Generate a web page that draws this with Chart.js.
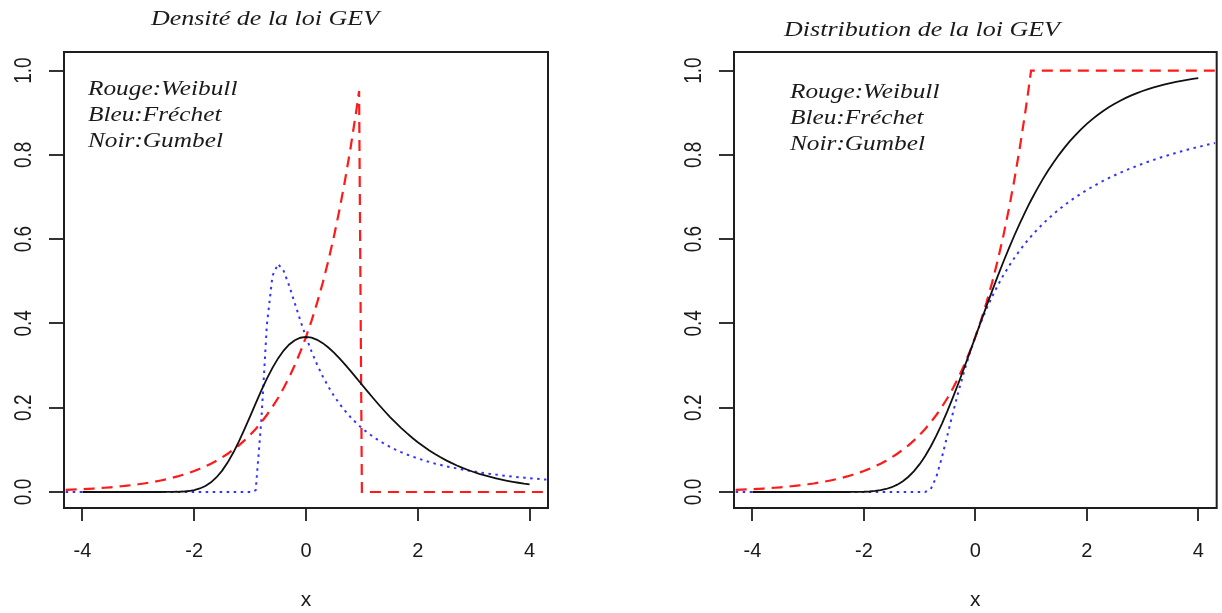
<!DOCTYPE html>
<html>
<head>
<meta charset="utf-8">
<script src="https://cdn.jsdelivr.net/npm/chart.js@4.4.1/dist/chart.umd.min.js"></script>
<style>
  html, body { margin: 0; padding: 0; background: #fff; }
  #wrap { position: relative; width: 1222px; height: 613px; overflow: hidden; }
  .panel { position: absolute; top: 0; width: 611px; height: 613px; }
  canvas { display: block; }
</style>
</head>
<body>
<div id="wrap">
  <div class="panel" style="left:0"><canvas id="densite" width="611" height="613"></canvas></div>
  <div class="panel" style="left:611px"><canvas id="distribution" width="611" height="613"></canvas></div>
</div>
<script>
// x grid shared by every curve
const xGrid = [
  -4.3,-4.2,-4.1,-4.0,-3.9,-3.8,-3.7,-3.6,-3.5,-3.4,-3.3,-3.2,-3.1,-3.0,-2.9,-2.8,-2.7,
  -2.6,-2.5,-2.4,-2.3,-2.2,-2.1,-2.0,-1.9,-1.8,-1.7,-1.6,-1.5,-1.4,-1.3,-1.2,-1.1,-1.0,
  -0.95,
  -0.9,-0.8,-0.7,-0.6,-0.5,-0.4,-0.3,-0.2,-0.1,0,0.1,0.2,0.3,0.4,0.5,0.6,0.7,0.8,0.9,
  0.95,
  1.0,1.1,1.2,1.3,1.4,1.5,1.6,1.7,1.8,1.9,2.0,2.1,2.2,2.3,2.4,2.5,2.6,
  2.7,2.8,2.9,3.0,3.1,3.2,3.3,3.4,3.5,3.6,3.7,3.8,3.9,4.0,4.1,4.2,4.3
];

// Weibull (rouge)
const weibullDensity = [
  0.0050,0.0055,0.0061,0.0067,0.0074,0.0082,0.0091,0.0101,0.0111,0.0123,0.0136,0.0150,0.0166,0.0183,0.0202,0.0224,0.0247,
  0.0273,0.0302,0.0334,0.0369,0.0408,0.0450,0.0498,0.0550,0.0608,0.0672,0.0743,0.0821,0.0907,0.1003,0.1108,0.1225,0.1353,
  0.1423,
  0.1496,0.1653,0.1827,0.2019,0.2231,0.2466,0.2725,0.3012,0.3329,0.3679,0.4066,0.4493,0.4966,0.5488,0.6065,0.6703,0.7408,0.8187,0.9048,
  0.9512,
  0,0,0,0,0,0,0,0,0,0,0,0,0,0,0,0,0,
  0,0,0,0,0,0,0,0,0,0,0,0,0,0,0,0,0
];
const weibullCdf = [
  0.0050,0.0055,0.0061,0.0067,0.0074,0.0082,0.0091,0.0101,0.0111,0.0123,0.0136,0.0150,0.0166,0.0183,0.0202,0.0224,0.0247,
  0.0273,0.0302,0.0334,0.0369,0.0408,0.0450,0.0498,0.0550,0.0608,0.0672,0.0743,0.0821,0.0907,0.1003,0.1108,0.1225,0.1353,
  0.1423,
  0.1496,0.1653,0.1827,0.2019,0.2231,0.2466,0.2725,0.3012,0.3329,0.3679,0.4066,0.4493,0.4966,0.5488,0.6065,0.6703,0.7408,0.8187,0.9048,
  0.9512,
  1,1,1,1,1,1,1,1,1,1,1,1,1,1,1,1,1,
  1,1,1,1,1,1,1,1,1,1,1,1,1,1,1,1,1
];

// Fréchet (bleu)
const frechetDensity = [
  0,0,0,0,0,0,0,0,0,0,0,0,0,0,0,0,0,
  0,0,0,0,0,0,0,0,0,0,0,0,0,0,0,0,0,
  0,
  0.0045,0.1685,0.3964,0.5130,0.5413,0.5247,0.4891,0.4477,0.4064,0.3679,0.3330,0.3018,0.2742,0.2498,0.2282,0.2091,0.1922,0.1771,0.1637,
  0.1575,
  0.1516,0.1409,0.1311,0.1224,0.1145,0.1073,0.1007,0.0947,0.0892,0.0842,0.0796,0.0754,0.0715,0.0678,0.0645,0.0613,0.0585,
  0.0558,0.0532,0.0509,0.0487,0.0466,0.0447,0.0429,0.0412,0.0395,0.0380,0.0366,0.0352,0.0340,0.0328,0.0316,0.0305,0.0295
];
const frechetCdf = [
  0,0,0,0,0,0,0,0,0,0,0,0,0,0,0,0,0,
  0,0,0,0,0,0,0,0,0,0,0,0,0,0,0,0,0,
  0,
  0.0000,0.0067,0.0357,0.0821,0.1353,0.1889,0.2397,0.2865,0.3292,0.3679,0.4029,0.4346,0.4634,0.4895,0.5134,0.5353,0.5553,0.5738,0.5908,
  0.5988,
  0.6065,0.6211,0.6347,0.6474,0.6592,0.6703,0.6807,0.6905,0.6997,0.7083,0.7165,0.7243,0.7316,0.7386,0.7452,0.7515,0.7575,
  0.7632,0.7686,0.7738,0.7788,0.7836,0.7881,0.7925,0.7967,0.8007,0.8046,0.8083,0.8119,0.8154,0.8187,0.8219,0.8251,0.8281
];

// Gumbel (noir), tracée de -4 à 4
const gumbelDensity = [
  null,null,null,0,0,0,0,0,0,0,0,0,0,0,0,0,0,
  0,0.0001,0.0002,0.0005,0.0011,0.0023,0.0046,0.0083,0.0143,0.0229,0.0350,0.0507,0.0703,0.0936,0.1200,0.1489,0.1794,
  0.1947,
  0.2102,0.2404,0.2688,0.2946,0.3170,0.3356,0.3500,0.3601,0.3660,0.3679,0.3661,0.3611,0.3532,0.3429,0.3307,0.3170,0.3022,0.2867,0.2708,
  0.2627,
  0.2546,0.2387,0.2229,0.2075,0.1927,0.1785,0.1650,0.1522,0.1401,0.1288,0.1182,0.1084,0.0992,0.0907,0.0828,0.0756,0.0690,
  0.0628,0.0572,0.0521,0.0474,0.0430,0.0392,0.0356,0.0323,0.0293,0.0266,0.0241,0.0219,0.0198,0.0180,null,null,null
];
const gumbelCdf = [
  null,null,null,0,0,0,0,0,0,0,0,0,0,0,0,0,0,
  0,0,0,0,0.0001,0.0003,0.0006,0.0012,0.0024,0.0042,0.0071,0.0113,0.0173,0.0255,0.0362,0.0496,0.0660,
  0.0753,
  0.0854,0.1080,0.1335,0.1617,0.1923,0.2250,0.2593,0.2948,0.3312,0.3679,0.4046,0.4410,0.4767,0.5115,0.5452,0.5776,0.6086,0.6381,0.6659,
  0.6793,
  0.6922,0.7169,0.7400,0.7615,0.7814,0.8000,0.8172,0.8330,0.8476,0.8611,0.8734,0.8847,0.8951,0.9046,0.9133,0.9212,0.9284,
  0.9350,0.9410,0.9465,0.9514,0.9560,0.9600,0.9638,0.9672,0.9703,0.9731,0.9756,0.9779,0.9800,0.9819,null,null,null
];

// axes
const xTicks = [-4, -2, 0, 2, 4];
const yTicks = [0, 0.2, 0.4, 0.6, 0.8, 1.0];
const yTickLabels = ['0.0', '0.2', '0.4', '0.6', '0.8', '1.0'];
const legendLines = ['Rouge:Weibull', 'Bleu:Fréchet', 'Noir:Gumbel'];
const axisTitle = 'x';

const SANS = '"Liberation Sans", Arial, sans-serif';
const SERIF = '"Liberation Serif", "Times New Roman", serif';

function points(values) {
  return xGrid.map((x, i) => ({ x: x, y: values[i] }));
}

// Box, rotated y labels, title and the colour key written inside the plot
function decorPlugin(cfg) {
  return {
    id: 'decor',
    afterDraw(chart) {
      const ctx = chart.ctx;
      const ca = chart.chartArea;
      const ys = chart.scales.y;

      ctx.save();
      ctx.strokeStyle = '#1e1e1e';
      ctx.lineWidth = 2;
      ctx.strokeRect(ca.left, ca.top, ca.right - ca.left, ca.bottom - ca.top);
      ctx.restore();

      ctx.save();
      ctx.fillStyle = '#1a1a1a';
      ctx.font = '19px ' + SANS;
      ctx.textAlign = 'center';
      ctx.textBaseline = 'middle';
      yTicks.forEach((v, i) => {
        ctx.save();
        ctx.translate(ca.left - 40, ys.getPixelForValue(v));
        ctx.rotate(-Math.PI / 2);
        ctx.scale(1, 1.3);
        ctx.fillText(yTickLabels[i], 0, 0);
        ctx.restore();
      });
      ctx.restore();

      ctx.save();
      ctx.fillStyle = '#1a1a1a';
      ctx.font = 'italic 20px ' + SERIF;
      ctx.textAlign = 'center';
      ctx.textBaseline = 'alphabetic';
      ctx.translate(cfg.titleX, cfg.titleY);
      ctx.scale(1.3, 1);
      ctx.fillText(cfg.title, 0, 0);
      ctx.restore();

      ctx.save();
      ctx.fillStyle = '#1a1a1a';
      ctx.font = 'italic 22px ' + SERIF;
      ctx.textAlign = 'left';
      ctx.textBaseline = 'alphabetic';
      legendLines.forEach((t, i) => {
        ctx.save();
        ctx.translate(cfg.keyX, cfg.keyY + i * 26);
        ctx.scale(1.15, 1);
        ctx.fillText(t, 0, 0);
        ctx.restore();
      });
      ctx.restore();
    }
  };
}

function makeChart(canvasId, red, blue, black, cfg) {
  const line = (data, color, dash, width, order) => ({
    data: points(data),
    borderColor: color,
    borderWidth: width,
    borderDash: dash,
    pointRadius: 0,
    tension: 0,
    fill: false,
    spanGaps: false,
    order: order
  });
  return new Chart(document.getElementById(canvasId), {
    type: 'line',
    data: {
      datasets: [
        line(black, '#111111', [], 1.8, 0),
        line(red, 'rgb(255,25,25)', [11, 7], 2.2, 1),
        line(blue, 'rgb(50,50,255)', [2.5, 4.5], 2, 2)
      ]
    },
    options: {
      responsive: false,
      animation: false,
      devicePixelRatio: 1,
      events: [],
      layout: { padding: cfg.padding },
      plugins: { legend: { display: false }, tooltip: { enabled: false }, title: { display: false } },
      scales: {
        x: {
          type: 'linear',
          min: -4.33,
          max: 4.33,
          afterBuildTicks: s => { s.ticks = xTicks.map(v => ({ value: v })); },
          afterFit: s => { s.height = 105; },
          border: { display: false },
          grid: { drawOnChartArea: false, drawTicks: true, tickLength: 13, color: '#333', lineWidth: 2 },
          ticks: {
            autoSkip: false, maxRotation: 0, minRotation: 0, padding: 18,
            color: '#1a1a1a', font: { family: SANS, size: 20 },
            callback: v => String(v)
          },
          title: { display: true, text: axisTitle, color: '#1a1a1a', font: { family: SANS, size: 21 }, padding: { top: 0, bottom: 0 } }
        },
        y: {
          type: 'linear',
          min: -0.038,
          max: 1.044,
          afterBuildTicks: s => { s.ticks = yTicks.map(v => ({ value: v })); },
          afterFit: s => { s.width = cfg.yWidth; },
          border: { display: false },
          grid: { drawOnChartArea: false, drawTicks: true, tickLength: 15, color: '#333', lineWidth: 2 },
          ticks: { display: false }
        }
      }
    },
    plugins: [decorPlugin(cfg)]
  });
}

// Densité : chart area 64..548 x 52..508
makeChart('densite', weibullDensity, frechetDensity, gumbelDensity, {
  padding: { left: 0, right: 63, top: 52, bottom: 0 },
  yWidth: 64,
  title: 'Densité de la loi GEV', titleX: 265, titleY: 25,
  keyX: 88, keyY: 95
});

// Distribution : chart area 734..1218 x 52..508
makeChart('distribution', weibullCdf, frechetCdf, gumbelCdf, {
  padding: { left: 63, right: 4, top: 52, bottom: 0 },
  yWidth: 60,
  title: 'Distribution de la loi GEV', titleX: 311, titleY: 36,
  keyX: 179, keyY: 98
});
</script>
</body>
</html>
